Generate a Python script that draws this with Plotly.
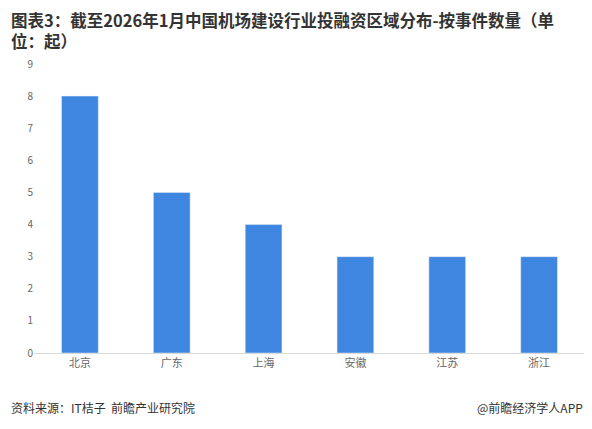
import plotly.graph_objects as go

regions = ["北京", "广东", "上海", "安徽", "江苏", "浙江"]
counts = [8, 5, 4, 3, 3, 3]

fig = go.Figure()
fig.add_trace(go.Bar(x=regions, y=counts, marker=dict(color="#3f86e0"), width=0.4))

fig.update_layout(
    width=584, height=421,
    margin=dict(l=26, r=7, t=56, b=76),
    paper_bgcolor="white", plot_bgcolor="white",
    font=dict(family="Noto Sans CJK SC", size=11, color="#666666"),
    showlegend=False,
    xaxis=dict(showline=True, linecolor="#d9d9d9", ticks="", tickfont=dict(size=11)),
    yaxis=dict(range=[0, 9], dtick=1, showgrid=False, zeroline=False, tickfont=dict(size=10)),
)
fig.add_annotation(
    text="<b>图表3：截至2026年1月中国机场建设行业投融资区域分布-按事件数量（单<br>位：起）</b>",
    xref="paper", yref="paper", x=-0.045, y=1.2, xanchor="left", yanchor="top",
    align="left", showarrow=False, font=dict(size=16.5, color="#333333"))
fig.add_annotation(text="资料来源：IT桔子  前瞻产业研究院", xref="paper", yref="paper",
                   x=-0.045, y=-0.19, xanchor="left", yanchor="middle", showarrow=False,
                   font=dict(size=12, color="#333333"))
fig.add_annotation(text="@前瞻经济学人APP", xref="paper", yref="paper",
                   x=1.0, y=-0.19, xanchor="right", yanchor="middle", showarrow=False,
                   font=dict(size=12, color="#333333"))
fig.write_html("out.html")
